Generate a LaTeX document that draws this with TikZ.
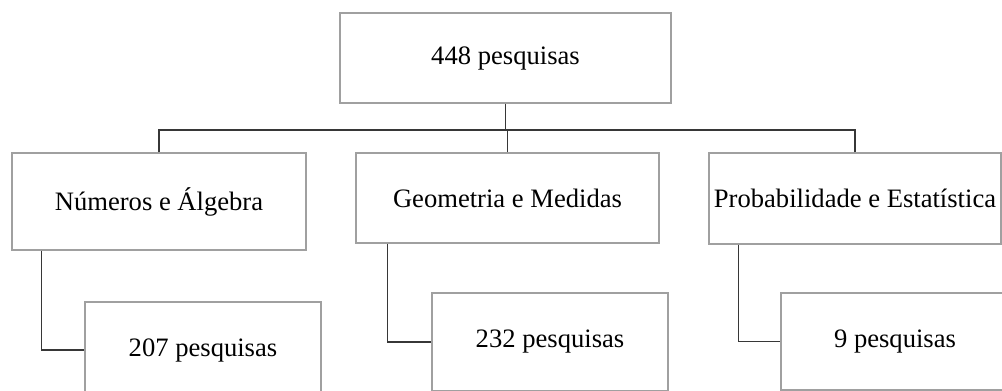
\documentclass[tikz,border=0pt]{standalone}
\usepackage{fontspec}
\setmainfont{Liberation Serif}
\definecolor{kastengrau}{RGB}{160,160,160}
\definecolor{liniengrau}{RGB}{55,55,55}
\tikzset{
	kasten/.style={draw=kastengrau, line width=0.7pt, inner sep=0pt, font=\fontsize{13.3}{16}\selectfont},
	linie/.style={draw=liniengrau, line width=0.6pt}
}
\begin{document}
\begin{tikzpicture}[x=0.5pt, y=-0.5pt]
		\clip (0,0) rectangle (1002,391);
		
		%Kasten oben
		\node[kasten, minimum width=165.5pt, minimum height=45pt] (gesamt) at (505.5,58) {448 pesquisas};
		
		%Bereiche
		\node[kasten, minimum width=147pt, minimum height=48.5pt] (numeros) at (159,201.5) {Números e Álgebra};
		\node[kasten, minimum width=151.5pt, minimum height=45pt] (geometria) at (507.5,198) {Geometria e Medidas};
		\node[kasten, minimum width=146pt, minimum height=45.5pt] (probabilidade) at (855,198.5) {Probabilidade e Estatística};
		
		%Anzahl je Bereich
		\node[kasten, minimum width=118pt, minimum height=48pt] (numerosN) at (203,350) {207 pesquisas};
		\node[kasten, minimum width=118pt, minimum height=49pt] (geometriaN) at (550,342) {232 pesquisas};
		\node[kasten, minimum width=114pt, minimum height=48.5pt] (probabilidadeN) at (895,341.5) {9 pesquisas};
		
		%waagrechte Verteilung
		\coordinate (verteiler) at (505.5,130);
		\draw[linie] (gesamt.south) -- (verteiler);
		\draw[linie] (numeros.north) |- (verteiler);
		\draw[linie] (probabilidade.north) |- (verteiler);
		\draw[linie] (geometria.north) -- (geometria.north |- verteiler);
		
		%Haken nach unten
		\draw[linie] ([xshift=15pt]numeros.south west) |- (numerosN.west);
		\draw[linie] ([xshift=16pt]geometria.south west) |- (geometriaN.west);
		\draw[linie] ([xshift=15pt]probabilidade.south west) |- (probabilidadeN.west);
		
\end{tikzpicture}
\end{document}
